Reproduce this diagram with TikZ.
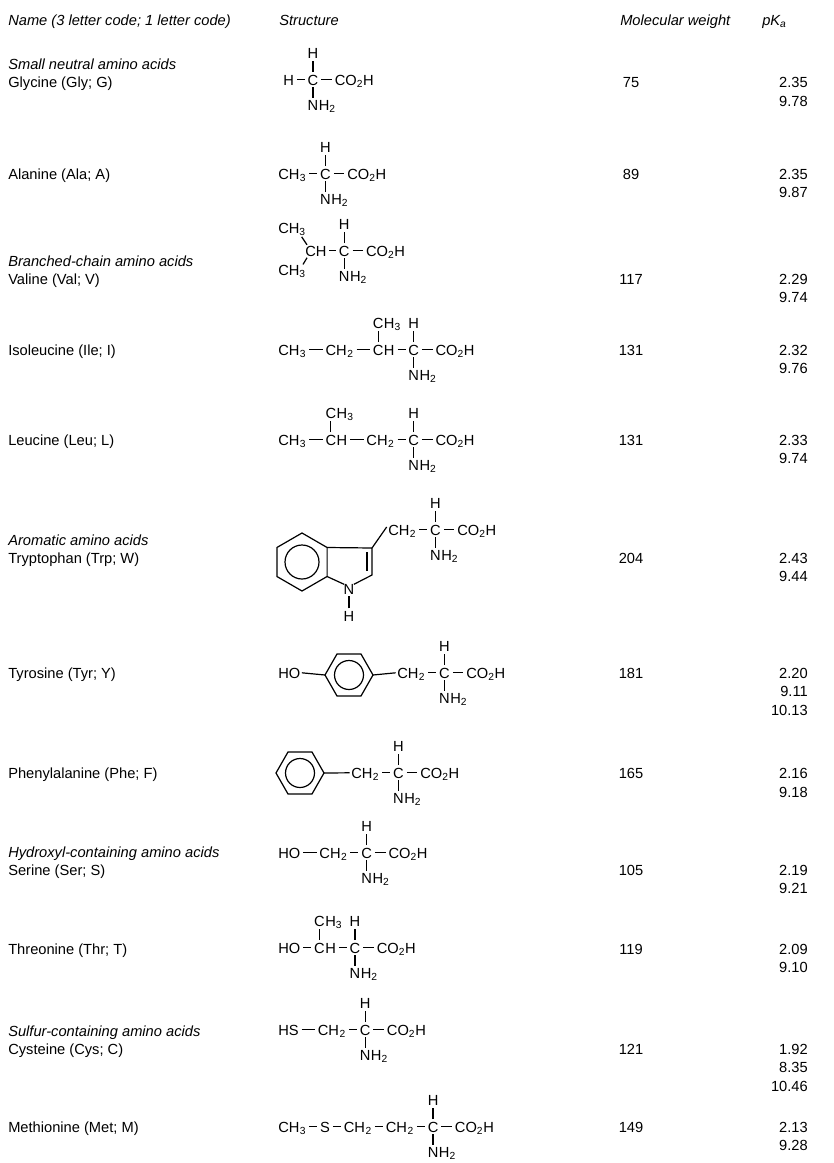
\documentclass[tikz,border=0pt]{standalone}
\usepackage{fontspec}
\setmainfont{Liberation Sans}
\tikzset{atm/.style={inner sep=0pt,anchor=base west,font=\fontsize{11}{13}\selectfont},
 lbl/.style={inner sep=0pt,anchor=mid west,yshift=-1.2pt,font=\fontsize{11}{13}\selectfont},
 num/.style={inner sep=0pt,anchor=mid east,yshift=-1.2pt,font=\fontsize{11}{13}\selectfont},
 mw/.style={inner sep=0pt,anchor=mid,yshift=-1.2pt,font=\fontsize{11}{13}\selectfont},
 cat/.style={lbl,font=\fontsize{11}{13}\selectfont\itshape},
 bond/.style={line width=0.9pt}}
\newcommand\grp[5]{\node[atm] (#1) at (#2,#3) {#4};\node[atm] (#1x) at (#1.base east) {#5};}
\newcommand\nxt[5][14pt]{\node[atm] (#2) at ([xshift=#1]#3.base east) {#4};\node[atm] (#2x) at (#2.base east) {#5};}
\newcommand\hb[2]{\draw[bond] ([shift={(2pt,3.9pt)}]#1.base east) -- ([shift={(-2pt,3.9pt)}]#2.base west);}
\newcommand\vb[2]{\draw[bond] ([yshift=1.8pt]#1.north) -- ([yshift=-1.8pt]#2.base);}
\newcommand\upgrp[4]{\node[atm,anchor=base] (#1) at ([yshift=20pt]#2.base) {#3};\node[atm] (#1x) at (#1.base east) {#4};\vb{#2}{#1}}
\newcommand\calp[3]{%
 \node[atm] (#1c) at ([xshift=#3]#2.base east) {C};
 \node[atm,anchor=base] (#1h) at ([yshift=20pt]#1c.base) {H};
 \node[atm,anchor=base] (#1n) at ([yshift=-19pt]#1c.base) {N};
 \node[atm] (#1nx) at (#1n.base east) {H\textsubscript{2}};
 \node[atm] (#1o) at ([xshift=12pt]#1c.base east) {CO\textsubscript{2}H};
 \vb{#1c}{#1h}\vb{#1n}{#1c}\hb{#1c}{#1o}\hb{#2}{#1c}}
\begin{document}
\begin{tikzpicture}[x=0.75pt,y=-0.75pt]
\useasboundingbox (0,0) rectangle (834,1163);
% header
\node[cat] (h1) at (8,20) {Name (3 letter code; 1 letter code)};
\node[cat] (h2) at (279,20) {Structure};
\node[cat] (h3) at (620,20) {Molecular weight};
\node[cat] (h4) at (762,20) {p\textit{K}\textsubscript{\textit{a}}};
% labels
\node[cat] (k1) at (8,64) {Small neutral amino acids};
\node[lbl] (n1) at (8,82) {Glycine (Gly; G)};
\node[lbl] (n2) at (8,174) {Alanine (Ala; A)};
\node[cat] (k2) at (8,261) {Branched-chain amino acids};
\node[lbl] (n3) at (8,279) {Valine (Val; V)};
\node[lbl] (n4) at (8,350) {Isoleucine (Ile; I)};
\node[lbl] (n5) at (8,440) {Leucine (Leu; L)};
\node[cat] (k3) at (8,540) {Aromatic amino acids};
\node[lbl] (n6) at (8,558) {Tryptophan (Trp; W)};
\node[lbl] (n7) at (8,673) {Tyrosine (Tyr; Y)};
\node[lbl] (n8) at (8,773) {Phenylalanine (Phe; F)};
\node[cat] (k4) at (8,852) {Hydroxyl-containing amino acids};
\node[lbl] (n9) at (8,870) {Serine (Ser; S)};
\node[lbl] (n10) at (8,949) {Threonine (Thr; T)};
\node[cat] (k5) at (8,1031) {Sulfur-containing amino acids};
\node[lbl] (n11) at (8,1049) {Cysteine (Cys; C)};
\node[lbl] (n12) at (8,1127) {Methionine (Met; M)};
% molecular weights
\foreach \v/\y [count=\i] in {75/82,89/174,117/279,131/350,131/440,204/558,181/673,165/773,105/870,119/949,121/1049,149/1127}
  \node[mw] (w\i) at (631,\y) {\v};
% pKa
\foreach \v/\y [count=\i] in {2.35/82,9.78/101,2.35/174,9.87/192,2.29/279,9.74/297,2.32/350,9.76/368,2.33/440,9.74/458,2.43/558,9.44/576,2.20/673,9.11/691,10.13/710,2.16/773,9.18/792,2.19/870,9.21/888,2.09/949,9.10/967,1.92/1049,8.35/1067,10.46/1086,2.13/1127,9.28/1145}
  \node[num] (p\i) at (808,\y) {\v};
% Glycine
\node[atm] (gH) at (283,85) {H};
\calp{g}{gH}{10pt}
% Alanine
\grp{a1}{278}{179}{CH}{\textsubscript{3}}
\calp{a}{a1x}{10pt}
% Valine
\grp{v1}{305}{256}{CH}{}
\calp{v}{v1}{9pt}
\node[atm] (v2) at (278,233) {CH\textsubscript{3}};
\node[atm] (v3) at (278,275) {CH\textsubscript{3}};
\draw[bond] ([shift={(1.5pt,0.5pt)}]v1.north west) -- ++(-4pt,6pt);
\draw[bond] ([shift={(1.5pt,-1pt)}]v1.south west) -- ++(-3pt,-5pt);
% Isoleucine
\grp{i1}{278}{355}{CH}{\textsubscript{3}}
\nxt{i2}{i1x}{CH}{\textsubscript{2}}
\nxt{i3}{i2x}{C}{H}
\hb{i1x}{i2}\hb{i2x}{i3}
\upgrp{i4}{i3}{C}{H\textsubscript{3}}
\calp{i}{i3x}{10pt}
% Leucine
\grp{l1}{278}{445}{CH}{\textsubscript{3}}
\nxt{l2}{l1x}{C}{H}
\nxt{l3}{l2x}{CH}{\textsubscript{2}}
\hb{l1x}{l2}\hb{l2x}{l3}
\upgrp{l4}{l2}{C}{H\textsubscript{3}}
\calp{l}{l3x}{10pt}
% Tryptophan
\draw[bond] (302,533) -- (327.1,547.5) -- (327.1,576.5) -- (302,591) -- (276.9,576.5) -- (276.9,547.5) -- cycle;
\draw[bond] (302,562) circle (17);
\coordinate (c3) at (372,548);
\coordinate (c2) at (372,575);
\node[atm,anchor=base] (tN) at (349,594) {N};
\node[atm,anchor=base] (tNH) at (349,621) {H};
\vb{tNH}{tN}
\draw[bond] (327.1,547.5) -- (c3) -- (c2) -- ([shift={(-0.5pt,-0.5pt)}]tN.north east);
\draw[bond] (327.1,576.5) -- ([shift={(0.5pt,-0.5pt)}]tN.north west);
\draw[bond] ([shift={(-5,4)}]c3) -- ([shift={(-5,-4)}]c2);
\grp{t1}{388}{535}{CH}{\textsubscript{2}}
\draw[bond] (c3) -- ([shift={(-1pt,6pt)}]t1.base west);
\calp{t}{t1x}{10pt}
% Tyrosine
\node[atm] (yHO) at (278,678) {HO};
\draw[bond] (373,675) -- (361,654) -- (337,654) -- (325,675) -- (337,696) -- (361,696) -- cycle;
\draw[bond] (349,675) circle (14.5);
\draw[bond] ([shift={(1pt,3.9pt)}]yHO.base east) -- (325,675);
\grp{y1}{397}{678}{CH}{\textsubscript{2}}
\draw[bond] (373,675) -- ([shift={(-1pt,3.9pt)}]y1.base west);
\calp{y}{y1x}{10pt}
% Phenylalanine
\draw[bond] (324,773) -- (312,752) -- (288,752) -- (276,773) -- (288,794) -- (312,794) -- cycle;
\draw[bond] (300,773) circle (14.5);
\grp{f1}{351}{778}{CH}{\textsubscript{2}}
\draw[bond] (324,773) -- ([shift={(-1pt,3.9pt)}]f1.base west);
\calp{f}{f1x}{10pt}
% Serine
\grp{s1}{278}{858}{HO}{}
\nxt{s2}{s1}{CH}{\textsubscript{2}}
\hb{s1}{s2}
\calp{s}{s2x}{10pt}
% Threonine
\grp{r1}{278}{953}{HO}{}
\nxt[10pt]{r2}{r1}{C}{H}
\hb{r1}{r2}
\upgrp{r3}{r2}{C}{H\textsubscript{3}}
\calp{r}{r2x}{10pt}
% Cysteine
\grp{c1}{278}{1035}{HS}{}
\nxt{c2}{c1}{CH}{\textsubscript{2}}
\hb{c1}{c2}
\calp{c}{c2x}{10pt}
% Methionine
\grp{m1}{278}{1132}{CH}{\textsubscript{3}}
\nxt[10pt]{m2}{m1x}{S}{}
\nxt[10pt]{m3}{m2}{CH}{\textsubscript{2}}
\nxt[10pt]{m4}{m3x}{CH}{\textsubscript{2}}
\hb{m1x}{m2}\hb{m2}{m3}\hb{m3x}{m4}
\calp{m}{m4x}{10pt}
\end{tikzpicture}
\end{document}
